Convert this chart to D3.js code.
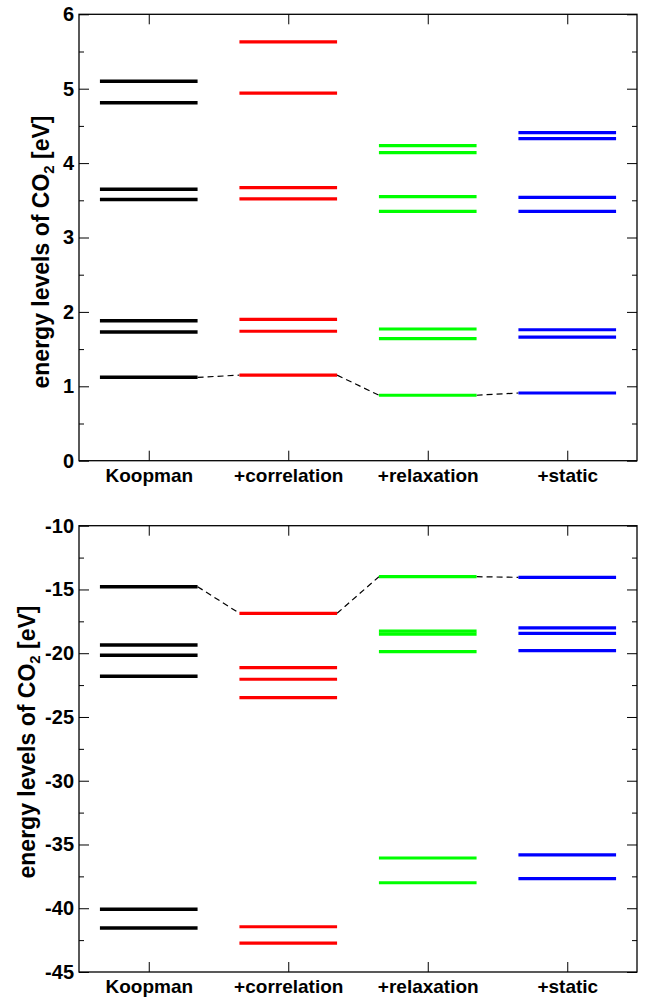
<!DOCTYPE html>
<html lang="en">
<head>
    <meta charset="UTF-8">
    <title>Energy levels of CO2</title>
    <script type="application/javascript" src="https://cdnjs.cloudflare.com/ajax/libs/d3/7.8.5/d3.min.js"></script>
    <style type="text/css">
        body { margin: 0; background: #fff; }
        text { font-family: "Liberation Sans", Arial, Helvetica, sans-serif; font-weight: bold; }
    </style>
</head>
<body>
<svg id="chart" width="645" height="997"></svg>
<script type="application/javascript">
    var categories = ['Koopman', '+correlation', '+relaxation', '+static'];
    var colors = ['#000000', '#ff0000', '#00ff00', '#0000ff'];

    // unoccupied levels (upper panel)
    var topKoopman = [1.12, 1.73, 1.88, 3.51, 3.65, 4.81, 5.10];
    var topCorrelation = [1.15, 1.74, 1.90, 3.52, 3.67, 4.94, 5.63];
    var topRelaxation = [0.88, 1.64, 1.77, 3.35, 3.55, 4.14, 4.235];
    var topStatic = [0.91, 1.66, 1.76, 3.35, 3.54, 4.33, 4.41];

    // occupied levels (lower panel)
    var bottomKoopman = [-14.78, -19.35, -20.16, -21.80, -40.08, -41.55];
    var bottomCorrelation = [-16.87, -21.13, -22.04, -23.49, -41.45, -42.73];
    var bottomRelaxation = [-14.00, -18.27, -18.51, -19.88, -36.06, -38.00];
    var bottomStatic = [-14.05, -18.02, -18.44, -19.80, -35.82, -37.68];

    var topTicks = [0, 1, 2, 3, 4, 5, 6];
    var bottomTicks = [-45, -40, -35, -30, -25, -20, -15, -10];

    var svg = d3.select('#chart');
    var left = 79, right = 637;
    var HALF = 0.35;

    var x = d3.scaleLinear().domain([0.5, 4.5]).range([left, right]);

    function panel(opts) {
        var y = d3.scaleLinear().domain(opts.domain).range([opts.y1, opts.y0]);
        var g = svg.append('g');

        // minor ticks
        g.append('g').attr('transform', 'translate(' + left + ',0)')
            .call(d3.axisLeft(y).tickValues(opts.minor).tickSizeInner(-5).tickSizeOuter(0).tickFormat(''));
        g.append('g').attr('transform', 'translate(' + right + ',0)')
            .call(d3.axisRight(y).tickValues(opts.minor).tickSizeInner(-5).tickSizeOuter(0).tickFormat(''));

        // major ticks
        var yl = g.append('g').attr('transform', 'translate(' + left + ',0)')
            .call(d3.axisLeft(y).tickValues(opts.ticks).tickSizeInner(-10).tickSizeOuter(0)
                .tickPadding(5).tickFormat(function (d) { return String(d); }));
        yl.selectAll('text').attr('font-size', 20).attr('fill', '#000');
        g.append('g').attr('transform', 'translate(' + right + ',0)')
            .call(d3.axisRight(y).tickValues(opts.ticks).tickSizeInner(-10).tickSizeOuter(0).tickFormat(''));

        g.append('g').attr('transform', 'translate(0,' + opts.y0 + ')')
            .call(d3.axisTop(x).tickValues([1, 2, 3, 4]).tickSizeInner(-10).tickSizeOuter(0).tickFormat(''));
        var xb = g.append('g').attr('transform', 'translate(0,' + opts.y1 + ')')
            .call(d3.axisBottom(x).tickValues([1, 2, 3, 4]).tickSizeInner(-10).tickSizeOuter(0)
                .tickPadding(7.5).tickFormat(function (d) { return categories[d - 1]; }));
        xb.selectAll('text').attr('font-size', 19).attr('fill', '#000');

        g.selectAll('.domain').remove();
        g.selectAll('.tick line').attr('stroke', '#000').attr('stroke-width', 1);

        g.append('rect')
            .attr('x', left).attr('y', opts.y0)
            .attr('width', right - left).attr('height', opts.y1 - opts.y0)
            .attr('fill', 'none').attr('stroke', '#000').attr('stroke-width', 1.3);

        // dashed connectors between frontier levels
        var frontier = opts.series.map(function (s) { return opts.pick(s); });
        for (var i = 0; i < frontier.length - 1; i++) {
            g.append('line')
                .attr('x1', x(i + 1 + HALF)).attr('y1', y(frontier[i]))
                .attr('x2', x(i + 2 - HALF)).attr('y2', y(frontier[i + 1]))
                .attr('stroke', '#000').attr('stroke-width', 1.2)
                .attr('stroke-dasharray', '6,4');
        }

        opts.series.forEach(function (levels, i) {
            g.append('g').selectAll('line')
                .data(levels)
                .enter().append('line')
                .attr('x1', x(i + 1 - HALF)).attr('x2', x(i + 1 + HALF))
                .attr('y1', function (d) { return y(d); })
                .attr('y2', function (d) { return y(d); })
                .attr('stroke', colors[i])
                .attr('stroke-width', i === 0 ? 3.5 : 3.2);
        });

        var label = svg.append('text')
            .attr('text-anchor', 'middle')
            .attr('font-size', 23)
            .attr('transform', 'translate(' + opts.labelX + ',' + opts.labelY + ')rotate(-90)');
        label.append('tspan').text('energy levels of CO');
        label.append('tspan').attr('font-size', 15).attr('dy', 5).text('2');
        label.append('tspan').attr('dy', -5).text(' [eV]');
    }

    panel({
        domain: [0, 6], y0: 14.3, y1: 460.7, ticks: topTicks,
        minor: [0.5, 1.5, 2.5, 3.5, 4.5, 5.5],
        series: [topKoopman, topCorrelation, topRelaxation, topStatic],
        pick: d3.min, labelX: 49, labelY: 252
    });

    panel({
        domain: [-45, -10], y0: 525.7, y1: 972, ticks: bottomTicks,
        minor: [-42.5, -37.5, -32.5, -27.5, -22.5, -17.5, -12.5],
        series: [bottomKoopman, bottomCorrelation, bottomRelaxation, bottomStatic],
        pick: d3.max, labelX: 35, labelY: 742
    });
</script>
</body>
</html>
